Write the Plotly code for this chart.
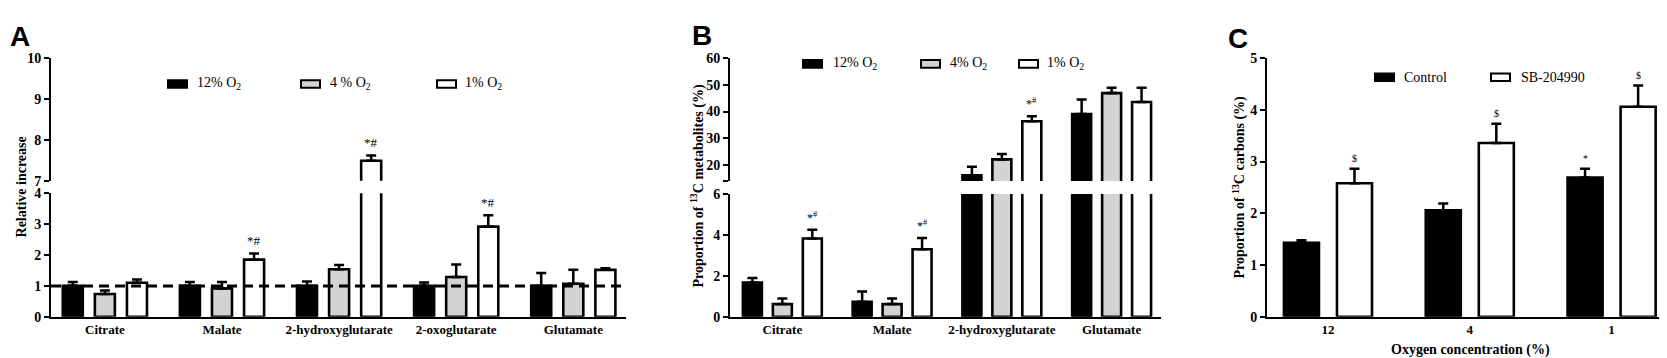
import plotly.graph_objects as go

W, H = 1667, 358

# ---------------- data ----------------
cats_A = ["Citrate", "Malate", "2-hydroxyglutarate", "2-oxoglutarate", "Glutamate"]
A_12 = [1.00, 1.00, 1.00, 1.00, 1.00]
A_12_err = [0.13, 0.13, 0.14, 0.11, 0.42]
A_4 = [0.74, 0.92, 1.54, 1.29, 1.07]
A_4_err = [0.11, 0.21, 0.14, 0.40, 0.45]
A_1 = [1.10, 1.85, 7.49, 2.92, 1.52]
A_1_err = [0.11, 0.20, 0.13, 0.37, 0.05]
A_sig_1 = ["", "*#", "*#", "*#", ""]
A_ref = 1.0
A_legend = ["12% O<sub>2</sub>", "4 % O<sub>2</sub>", "1% O<sub>2</sub>"]

cats_B = ["Citrate", "Malate", "2-hydroxyglutarate", "Glutamate"]
B_12 = [1.67, 0.73, 16.1, 39.1]
B_12_err = [0.23, 0.51, 3.2, 5.4]
B_4 = [0.62, 0.62, 22.1, 46.9]
B_4_err = [0.27, 0.27, 2.0, 2.0]
B_1 = [3.82, 3.30, 36.4, 43.6]
B_1_err = [0.43, 0.55, 1.8, 5.3]
B_sig_1 = ["*<sup>#</sup>", "*<sup>#</sup>", "*<sup>#</sup>", ""]
B_legend = ["12% O<sub>2</sub>", "4% O<sub>2</sub>", "1% O<sub>2</sub>"]

cats_C = ["12", "4", "1"]
C_ctrl = [1.43, 2.06, 2.69]
C_ctrl_err = [0.05, 0.13, 0.17]
C_sb = [2.58, 3.36, 4.06]
C_sb_err = [0.28, 0.37, 0.41]
C_sig_ctrl = ["", "", "*"]
C_sig_sb = ["$", "$", "$"]
C_legend = ["Control", "SB-204990"]

# ---------------- style ----------------
BLACK, GREY, WHITE = "#000000", "#d3d3d3", "#ffffff"
SERIF = "Liberation Serif"
SANS = "Liberation Sans"


def fx(px):
    return px / W


def fy(py):
    return 1 - py / H


fig = go.Figure()


def add_bars(vals, errs, color, off, width, xa, ya):
    idx = list(range(len(vals)))
    fig.add_trace(go.Bar(
        x=idx, y=vals, width=[width] * len(vals), offset=[off - width / 2] * len(vals),
        marker=dict(color=color, line=dict(color=BLACK, width=2.6)),
        error_y=dict(type="data", symmetric=False, array=errs, arrayminus=[0] * len(vals),
                     color=BLACK, thickness=2.5, width=5),
        xaxis=xa, yaxis=ya, showlegend=False, hoverinfo="skip"))


# Panel A (lower = x/y, upper = x2/y2)
wA, oA = 0.171, 0.274
for xa, ya in [("x", "y"), ("x2", "y2")]:
    add_bars(A_12, A_12_err, BLACK, -oA, wA, xa, ya)
    add_bars(A_4, A_4_err, GREY, 0, wA, xa, ya)
    add_bars(A_1, A_1_err, WHITE, oA, wA, xa, ya)

# Panel B (lower = x3/y3, upper = x4/y4)
wB, oB = 0.173, 0.273
for xa, ya in [("x3", "y3"), ("x4", "y4")]:
    add_bars(B_12, B_12_err, BLACK, -oB, wB, xa, ya)
    add_bars(B_4, B_4_err, GREY, 0, wB, xa, ya)
    add_bars(B_1, B_1_err, WHITE, oB, wB, xa, ya)

# Panel C (x5/y5)
wC, oC = 0.247, 0.187
add_bars(C_ctrl, C_ctrl_err, BLACK, -oC, wC, "x5", "y5")
add_bars(C_sb, C_sb_err, WHITE, oC, wC, "x5", "y5")

yax_common = dict(showline=True, linewidth=2, linecolor=BLACK, ticks="outside", ticklen=5,
                  tickwidth=2, tickcolor=BLACK, showgrid=False, zeroline=False,
                  tickfont=dict(family=SERIF, size=14, color=BLACK, weight="bold"))
xax_common = dict(showline=True, linewidth=2, linecolor=BLACK, ticks="", showgrid=False,
                  zeroline=False, tickfont=dict(family=SERIF, size=13, color=BLACK, weight="bold"))

domA = [fx(43), fx(618)]
domB = [fx(722), fx(1153)]
domC = [fx(1259), fx(1666)]
rA = [-0.46, 4.45]
rB = [-0.477, 3.45]
rC = [-0.43, 2.44]

fig.update_layout(
    width=W, height=H, margin=dict(l=0, r=0, t=0, b=0),
    paper_bgcolor="white", plot_bgcolor="white", barmode="overlay",
    xaxis=dict(xax_common, domain=domA, range=rA, anchor="y",
               tickvals=list(range(len(cats_A))), ticktext=cats_A),
    yaxis=dict(yax_common, domain=[fy(315), fy(186)], range=[0, 4], anchor="x",
               tickvals=[0, 1, 2, 3, 4]),
    xaxis2=dict(domain=domA, range=rA, anchor="y2", visible=False),
    yaxis2=dict(yax_common, domain=[fy(173), fy(45)], range=[7, 10], anchor="x2",
                tickvals=[7, 8, 9, 10]),
    xaxis3=dict(xax_common, domain=domB, range=rB, anchor="y3",
                tickvals=list(range(len(cats_B))), ticktext=cats_B),
    yaxis3=dict(yax_common, domain=[fy(315), fy(186.7)], range=[0, 6], anchor="x3",
                tickvals=[0, 2, 4, 6]),
    xaxis4=dict(domain=domB, range=rB, anchor="y4", visible=False),
    yaxis4=dict(yax_common, domain=[fy(173.3), fy(45)], range=[14, 60], anchor="x4",
                tickvals=[14, 20, 30, 40, 50, 60], ticktext=["", "20", "30", "40", "50", "60"]),
    xaxis5=dict(xax_common, domain=domC, range=rC, anchor="y5",
                tickvals=list(range(len(cats_C))), ticktext=cats_C),
    yaxis5=dict(yax_common, domain=[fy(315), fy(45)], range=[0, 5], anchor="x5",
                tickvals=[0, 1, 2, 3, 4, 5]),
)

# dashed reference line in panel A
fig.add_shape(type="line", xref="x domain", yref="y", x0=0, x1=0.995, y0=A_ref, y1=A_ref,
              line=dict(color=BLACK, width=3, dash="10px,6px"), layer="above")

ann = []


def sig(texts, vals, errs, off, xref, yref, size):
    for i, t in enumerate(texts):
        if t:
            ann.append(dict(x=i + off, y=vals[i] + errs[i], xref=xref, yref=yref, text=t,
                            showarrow=False, xanchor="center", yanchor="bottom", yshift=3,
                            font=dict(family=SERIF, size=size, color=BLACK)))


# A: 2-HG white bar lives in upper segment
sig([t if A_1[i] < 4 else "" for i, t in enumerate(A_sig_1)], A_1, A_1_err, oA, "x", "y", 13)
sig([t if A_1[i] >= 7 else "" for i, t in enumerate(A_sig_1)], A_1, A_1_err, oA, "x2", "y2", 13)
sig([t if B_1[i] < 6 else "" for i, t in enumerate(B_sig_1)], B_1, B_1_err, oB, "x3", "y3", 12)
sig([t if B_1[i] >= 14 else "" for i, t in enumerate(B_sig_1)], B_1, B_1_err, oB, "x4", "y4", 12)
sig(C_sig_ctrl, C_ctrl, C_ctrl_err, -oC, "x5", "y5", 10)
sig(C_sig_sb, C_sb, C_sb_err, oC, "x5", "y5", 10)


# legends (swatch + text)
def legend(items, colors, sw_x, txt_x, yc, sw_w=19, sw_h=8):
    for t, c, sx, tx in zip(items, colors, sw_x, txt_x):
        fig.add_shape(type="rect", xref="paper", yref="paper", x0=fx(sx), x1=fx(sx + sw_w),
                      y0=fy(yc + sw_h / 2), y1=fy(yc - sw_h / 2), fillcolor=c,
                      line=dict(color=BLACK, width=2))
        ann.append(dict(x=fx(tx), y=fy(yc), xref="paper", yref="paper", text=t, showarrow=False,
                        xanchor="left", yanchor="middle",
                        font=dict(family=SERIF, size=14, color=BLACK)))


legend(A_legend, [BLACK, GREY, WHITE], [160, 293, 429], [187, 320, 455], 72)
legend(B_legend, [BLACK, GREY, WHITE], [795, 913, 1011], [823, 940, 1037], 51)
legend(C_legend, [BLACK, WHITE], [1367, 1483], [1394, 1511], 65)

# axis titles
bold_title = dict(family=SERIF, size=14, color=BLACK, weight="bold")
for txt, px, py, ang in [
    ("Relative increase", 13, 180, -90),
    ("Proportion of <sup>13</sup>C metabolites (%)", 690, 178, -90),
    ("Proportion of <sup>13</sup>C carbons (%)", 1231, 180, -90),
    ("Oxygen concentration (%)", 1462, 350, 0),
]:
    ann.append(dict(x=fx(px), y=fy(py), xref="paper", yref="paper", text=txt,
                    textangle=ang, showarrow=False, xanchor="center", yanchor="middle",
                    font=bold_title))

# panel letters
for letter, px, py in [("A", 0, 4), ("B", 682, 3), ("C", 1218, 6)]:
    ann.append(dict(x=fx(px), y=fy(py), xref="paper", yref="paper", text=letter,
                    showarrow=False, xanchor="left", yanchor="top",
                    font=dict(family=SANS, size=28, color=BLACK, weight="bold")))

fig.update_layout(annotations=ann)
fig.write_html("out.html")
